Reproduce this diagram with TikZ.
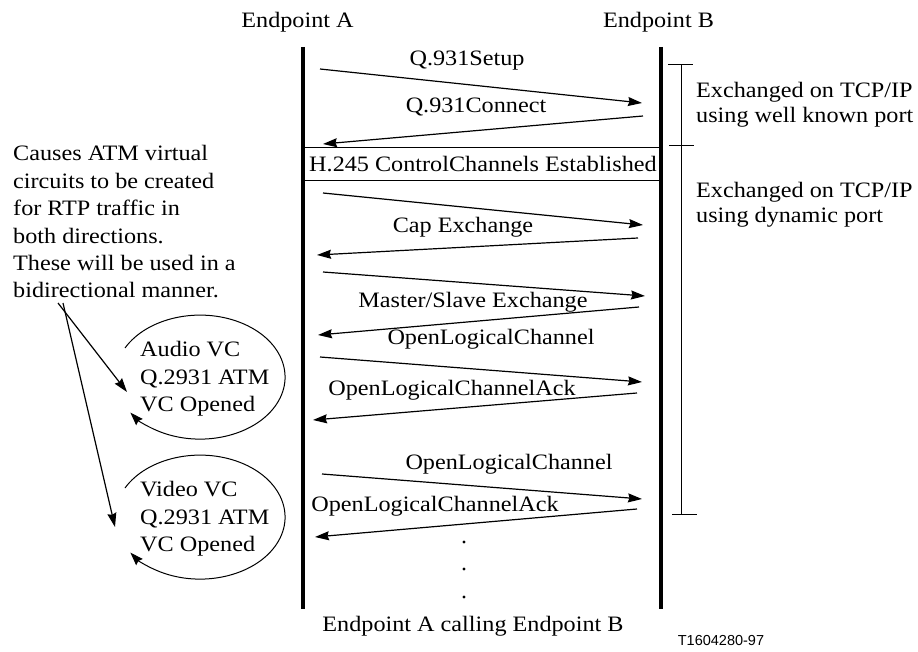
\documentclass[tikz,border=0pt]{standalone}
\usepackage{fontspec}
\setmainfont{Liberation Serif}[FakeStretch=1.1]
\newfontfamily\tagfont{Liberation Sans}
\usetikzlibrary{arrows.meta}
\begin{document}
\begin{tikzpicture}[x=1pt,y=-1pt,
  txt/.style={inner sep=0pt, font=\fontsize{22}{26}\selectfont, anchor=base},
  ltxt/.style={txt, anchor=base west},
  life/.style={line width=4pt},
  msg/.style={line width=1.2pt, -{Stealth[length=14pt,width=9pt,inset=1.5pt]}},
  thinline/.style={line width=1pt},
  loopy/.style={line width=1pt, -{Stealth[length=13pt,width=9pt,inset=1.5pt]}},
  pointer/.style={line width=1.2pt, -{Stealth[length=14pt,width=9pt,inset=1.5pt]}},
]
\useasboundingbox[fill=white] (0,0) rectangle (918,652);

% headers
\node[txt] (hA) at (297.5,28) {Endpoint A};
\node[txt] (hB) at (658.5,28) {Endpoint B};

% lifelines
\coordinate (Atop) at (303,47); \coordinate (Abot) at (303,609);
\coordinate (Btop) at (661,47); \coordinate (Bbot) at (661,609);
\draw[life] (Atop) -- (Abot);
\draw[life] (Btop) -- (Bbot);

% H.245 box
\coordinate (h1a) at (303,148); \coordinate (h1b) at (661,148);
\coordinate (h2a) at (303,181); \coordinate (h2b) at (661,181);
\draw[thinline] (h1a) -- (h1b);
\draw[thinline] (h2a) -- (h2b);
\node[txt] (h245) at (483,171.5) {H.245 ControlChannels Established};

% messages
\coordinate (m1s) at (320,69);  \coordinate (m1e) at (642,103);
\coordinate (m2s) at (643,116); \coordinate (m2e) at (323,144);
\coordinate (m3s) at (323,193); \coordinate (m3e) at (643,225);
\coordinate (m4s) at (638,238); \coordinate (m4e) at (317,255);
\coordinate (m5s) at (323,272); \coordinate (m5e) at (645,296);
\coordinate (m6s) at (639,307); \coordinate (m6e) at (318,335);
\coordinate (m7s) at (320,357); \coordinate (m7e) at (642,382);
\coordinate (m8s) at (637,393); \coordinate (m8e) at (313,420);
\coordinate (m9s) at (322,474); \coordinate (m9e) at (642,499);
\coordinate (m10s) at (637,509); \coordinate (m10e) at (315,537);
\foreach \i in {1,...,10} \draw[msg] (m\i s) -- (m\i e);

\node[txt] (l1) at (467,66) {Q.931Setup};
\node[txt] (l2) at (476,113) {Q.931Connect};
\node[txt] (l3) at (463,233) {Cap Exchange};
\node[txt] (l5) at (473,307) {Master/Slave Exchange};
\node[txt] (l6) at (491,344) {OpenLogicalChannel};
\node[txt] (l7) at (452,395) {OpenLogicalChannelAck};
\node[txt] (l9) at (509,469) {OpenLogicalChannel};
\node[txt] (l10) at (435,511) {OpenLogicalChannelAck};

% dots
\coordinate (d1) at (464,542); \coordinate (d2) at (464,569); \coordinate (d3) at (464,597);
\foreach \d in {d1,d2,d3} \fill (\d) circle (1.7);

% bottom caption
\node[txt] (cap) at (473,631) {Endpoint A calling Endpoint B};
\node[inner sep=0pt, anchor=base, font=\tagfont\fontsize{14.5}{16}\selectfont] (tag) at (721,645) {T1604280-97};

% bracket
\coordinate (bt) at (681,65); \coordinate (bb) at (681,514);
\coordinate (t1a) at (668,65); \coordinate (t1b) at (693,65);
\coordinate (t2a) at (669,146); \coordinate (t2b) at (694,146);
\coordinate (t3a) at (672,514); \coordinate (t3b) at (697,514);
\draw[thinline] (bt) -- (bb);
\draw[thinline] (t1a) -- (t1b);
\draw[thinline] (t2a) -- (t2b);
\draw[thinline] (t3a) -- (t3b);
\node[ltxt] (r1) at (696,98) {Exchanged on TCP/IP};
\node[ltxt] (r2) at (696,123) {using well known port};
\node[ltxt] (r3) at (696,198) {Exchanged on TCP/IP};
\node[ltxt] (r4) at (696,223) {using dynamic port};

% left explanation
\node[ltxt] (c1) at (13,161) {Causes ATM virtual};
\node[ltxt] (c2) at (13,188.4) {circuits to be created};
\node[ltxt] (c3) at (13,215.8) {for RTP traffic in};
\node[ltxt] (c4) at (13,243.2) {both directions.};
\node[ltxt] (c5) at (13,270.6) {These will be used in a};
\node[ltxt] (c6) at (13,298) {bidirectional manner.};

% ellipse 1
\node[ltxt] (a1) at (140,356) {Audio VC};
\node[ltxt] (a2) at (140,384) {Q.2931 ATM};
\node[ltxt] (a3) at (140,411) {VC Opened};
\coordinate (e1s) at (125,348);
\draw[loopy] (e1s) arc[start angle=208, end angle=505, x radius=85, y radius=62];

% ellipse 2
\node[ltxt] (v1) at (140,496) {Video VC};
\node[ltxt] (v2) at (140,524) {Q.2931 ATM};
\node[ltxt] (v3) at (140,551) {VC Opened};
\coordinate (e2s) at (125,488);
\draw[loopy] (e2s) arc[start angle=208, end angle=505, x radius=85, y radius=62];

% pointers
\coordinate (p1s) at (58,303); \coordinate (p1e) at (127,392);
\coordinate (p2s) at (63,303); \coordinate (p2e) at (115,527);
\draw[pointer] (p1s) -- (p1e);
\draw[pointer] (p2s) -- (p2e);
\end{tikzpicture}
\end{document}
